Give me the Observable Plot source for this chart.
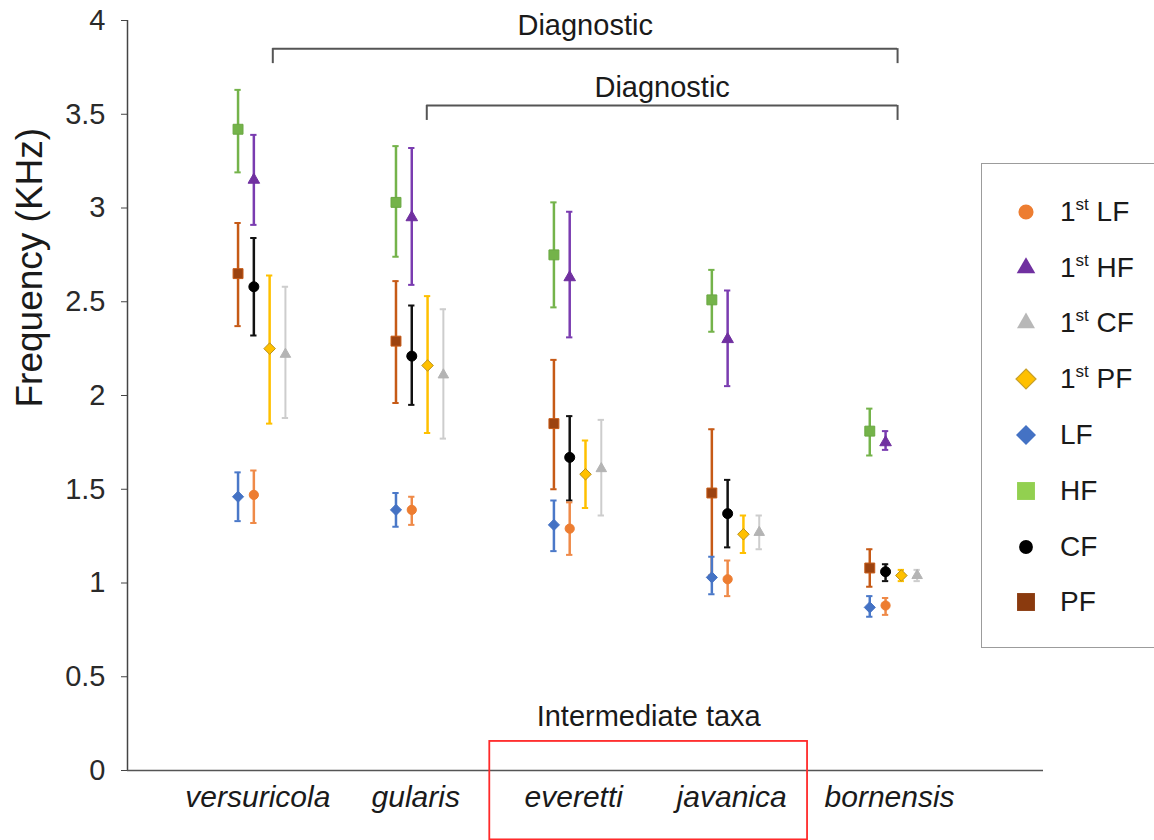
<!DOCTYPE html>
<html>
<head>
<meta charset="utf-8">
<script src="https://cdn.jsdelivr.net/npm/d3@7"></script>
<script src="https://cdn.jsdelivr.net/npm/@observablehq/plot@0.6"></script>
<style>
  html, body { margin: 0; padding: 0; background: #fff; }
  #wrap { position: relative; width: 1154px; height: 840px; overflow: hidden; font-family: "Liberation Sans", Arial, sans-serif; }
  #legend { position: absolute; left: 981px; top: 163px; width: 220px; height: 485px; border: 1.5px solid #9c9c9c; box-sizing: border-box; background: #fff; padding-top: 20px; }
  .row { display: flex; align-items: center; height: 55.8px; }
  .row svg { margin-left: 29px; flex: none; }
  .row span { margin-left: 19px; font-size: 28px; color: #1a1a1a; white-space: nowrap; }
  .row sup { font-size: 17px; vertical-align: 11px; line-height: 0; }
</style>
</head>
<body>
<div id="wrap"></div>
<script>
// ---- data (kHz) ----
const species = ["versuricola", "gularis", "everetti", "javanica", "bornensis"];
const seriesNames = ["1st LF", "1st HF", "1st CF", "1st PF", "LF", "HF", "CF", "PF"];

const mean_1stLF = [1.47, 1.39, 1.29, 1.02, 0.88];
const low_1stLF  = [1.32, 1.31, 1.15, 0.93, 0.83];
const high_1stLF = [1.60, 1.46, 1.43, 1.12, 0.92];

const mean_1stHF = [3.15, 2.95, 2.63, 2.30, 1.75];
const low_1stHF  = [2.91, 2.59, 2.31, 2.05, 1.71];
const high_1stHF = [3.39, 3.32, 2.98, 2.56, 1.81];

const mean_1stCF = [2.22, 2.11, 1.61, 1.27, 1.04];
const low_1stCF  = [1.88, 1.77, 1.36, 1.18, 1.01];
const high_1stCF = [2.58, 2.46, 1.87, 1.36, 1.07];

const mean_1stPF = [2.25, 2.16, 1.58, 1.26, 1.04];
const low_1stPF  = [1.85, 1.80, 1.40, 1.16, 1.01];
const high_1stPF = [2.64, 2.53, 1.76, 1.36, 1.07];

const mean_LF = [1.46, 1.39, 1.31, 1.03, 0.87];
const low_LF  = [1.33, 1.30, 1.17, 0.94, 0.82];
const high_LF = [1.59, 1.48, 1.44, 1.14, 0.93];

const mean_HF = [3.42, 3.03, 2.75, 2.51, 1.81];
const low_HF  = [3.19, 2.74, 2.47, 2.34, 1.68];
const high_HF = [3.63, 3.33, 3.03, 2.67, 1.93];

const mean_CF = [2.58, 2.21, 1.67, 1.37, 1.06];
const low_CF  = [2.32, 1.95, 1.44, 1.19, 1.01];
const high_CF = [2.84, 2.48, 1.89, 1.55, 1.10];

const mean_PF = [2.65, 2.29, 1.85, 1.48, 1.08];
const low_PF  = [2.37, 1.96, 1.50, 1.04, 0.98];
const high_PF = [2.92, 2.61, 2.19, 1.82, 1.18];

const yTicks = [0, 0.5, 1, 1.5, 2, 2.5, 3, 3.5, 4];

// Annotation brackets (x in category units, y in kHz)
const brackets = [
  {from: 0.12, to: 4.076, y: 3.85, drop: 3.77, label: "Diagnostic", ly: 3.97},
  {from: 1.095, to: 4.076, y: 3.547, drop: 3.467, label: "Diagnostic", ly: 3.64}
];
const intermediate = {from: 1.494, to: 3.506, top: 0.155, bottom: -0.37, label: "Intermediate taxa", ly: 0.285};

// ---- table ----
const seriesData = {
  "1st LF": [mean_1stLF, low_1stLF, high_1stLF],
  "1st HF": [mean_1stHF, low_1stHF, high_1stHF],
  "1st CF": [mean_1stCF, low_1stCF, high_1stCF],
  "1st PF": [mean_1stPF, low_1stPF, high_1stPF],
  "LF": [mean_LF, low_LF, high_LF],
  "HF": [mean_HF, low_HF, high_HF],
  "CF": [mean_CF, low_CF, high_CF],
  "PF": [mean_PF, low_PF, high_PF]
};

// ---- styles ----
const style = {
  "HF":     {off: -0.1, bar: "#74b34a", fill: "#74b34a", stroke: "#6aa842", symbol: "square", r: 5.6, w: 2.5, legendFill: "#92d050", legendSize: 320, legendSym: d3.symbolSquare},
  "PF":     {off: -0.1, bar: "#c65a16", fill: "#9c4310", stroke: "#c65a16", symbol: "square", r: 5.6, w: 2.5, legendFill: "#8a3a0e", legendSize: 320, legendSym: d3.symbolSquare},
  "LF":     {off: -0.1, bar: "#4a78c8", fill: "#4472c4", stroke: "#4472c4", symbol: "diamond2", r: 5, w: 2.5, legendFill: "#4472c4", legendSize: 255, legendSym: d3.symbolDiamond2},
  "1st HF": {off: 0, bar: "#7a3cb0", fill: "#7030a0", stroke: "#7030a0", symbol: "triangle", r: 4.3, w: 2.5, legendFill: "#7030a0", legendSize: 150, legendSym: d3.symbolTriangle},
  "CF":     {off: 0, bar: "#111", fill: "#000", stroke: "#000", symbol: "circle", r: 5, w: 2.5, legendFill: "#000", legendSize: 150, legendSym: d3.symbolCircle},
  "1st LF": {off: 0, bar: "#ef8a48", fill: "#ed7d31", stroke: "#ed7d31", symbol: "circle", r: 4.6, w: 2.5, legendFill: "#ed7d31", legendSize: 180, legendSym: d3.symbolCircle},
  "1st PF": {off: 0.1, bar: "#ffc000", fill: "#ffc000", stroke: "#b8901a", symbol: "diamond2", r: 5.2, w: 2.5, legendFill: "#ffc000", legendStroke: "#c8a02a", legendSize: 255, legendSym: d3.symbolDiamond2},
  "1st CF": {off: 0.2, bar: "#cdcdcd", fill: "#b4b4b4", stroke: "#b4b4b4", symbol: "triangle", r: 3.9, w: 2, legendFill: "#b8b8b8", legendSize: 140, legendSym: d3.symbolTriangle}
};

const drawOrder = ["HF", "1st HF", "PF", "CF", "1st PF", "1st CF", "LF", "1st LF"];
const capHalf = 0.02;

const marks = [];
for (const s of drawOrder) {
  const [m, lo, hi] = seriesData[s];
  const st = style[s];
  const rows = species.map((sp, i) => ({i, sp, m: m[i], lo: lo[i], hi: hi[i]}));
  const xf = d => d.i + st.off;
  marks.push(Plot.ruleX(rows, {x: xf, y1: "lo", y2: "hi", stroke: st.bar, strokeWidth: st.w}));
  marks.push(Plot.ruleY(rows, {y: "hi", x1: d => xf(d) - capHalf, x2: d => xf(d) + capHalf, stroke: st.bar, strokeWidth: 2}));
  marks.push(Plot.ruleY(rows, {y: "lo", x1: d => xf(d) - capHalf, x2: d => xf(d) + capHalf, stroke: st.bar, strokeWidth: 2}));
  marks.push(Plot.dot(rows, {x: xf, y: "m", symbol: st.symbol, r: st.r, fill: st.fill, stroke: st.stroke, strokeWidth: 1}));
}

const font = "'Liberation Sans', Arial, sans-serif";

const chart = Plot.plot({
  width: 1154,
  height: 840,
  marginLeft: 127,
  marginRight: 111,
  marginTop: 20,
  marginBottom: 70,
  x: {domain: [-0.8, 5], axis: null},
  y: {domain: [0, 4]},
  style: {fontFamily: font, background: "transparent", overflow: "visible"},
  marks: [
    Plot.axisY({ticks: yTicks, tickFormat: d => String(d), tickSize: 6, tickPadding: 16, fontSize: 29, label: null, color: "#2a2a2a", stroke: "#444"}),
    Plot.ruleX([-0.8], {y1: 0, y2: 4, stroke: "#444", strokeWidth: 1.5}),
    Plot.ruleY([0], {stroke: "#555", strokeWidth: 1.5}),
    Plot.text(["Frequency (KHz)"], {frameAnchor: "left", dx: -97, dy: 12, rotate: -90, fontSize: 37, fill: "#1a1a1a"}),
    Plot.text(species, {x: (d, i) => i, y: 0, dy: 27, dx: 4, fontSize: 30, fontStyle: "italic", fill: "#1a1a1a"}),
    // brackets
    Plot.ruleY(brackets, {y: "y", x1: "from", x2: "to", stroke: "#555", strokeWidth: 2}),
    Plot.ruleX(brackets, {x: "from", y1: "y", y2: "drop", stroke: "#555", strokeWidth: 2}),
    Plot.ruleX(brackets, {x: "to", y1: "y", y2: "drop", stroke: "#555", strokeWidth: 2}),
    Plot.text(brackets, {x: d => (d.from + d.to) / 2, y: "ly", text: "label", fontSize: 29, fill: "#1a1a1a"}),
    // intermediate taxa
    Plot.text([intermediate], {x: d => (d.from + d.to) / 2, y: "ly", text: "label", fontSize: 29, fill: "#1a1a1a"}),
    Plot.rect([intermediate], {x1: "from", x2: "to", y1: "bottom", y2: "top", fill: "none", stroke: "#ff2a2a", strokeWidth: 1.8}),
    ...marks
  ]
});

const wrap = document.getElementById("wrap");
wrap.appendChild(chart);

// legend
const legend = document.createElement("div");
legend.id = "legend";
for (const s of seriesNames) {
  const st = style[s];
  const row = document.createElement("div");
  row.className = "row";
  const svg = d3.create("svg").attr("width", 30).attr("height", 30);
  svg.append("path")
    .attr("transform", "translate(15,15)")
    .attr("d", d3.symbol(st.legendSym, st.legendSize)())
    .attr("fill", st.legendFill)
    .attr("stroke", st.legendStroke || "none")
    .attr("stroke-width", 1.2);
  row.appendChild(svg.node());
  const span = document.createElement("span");
  if (s.startsWith("1st ")) {
    span.innerHTML = "1<sup>st</sup> " + s.slice(4);
  } else {
    span.textContent = s;
  }
  row.appendChild(span);
  legend.appendChild(row);
}
wrap.appendChild(legend);
</script>
</body>
</html>
